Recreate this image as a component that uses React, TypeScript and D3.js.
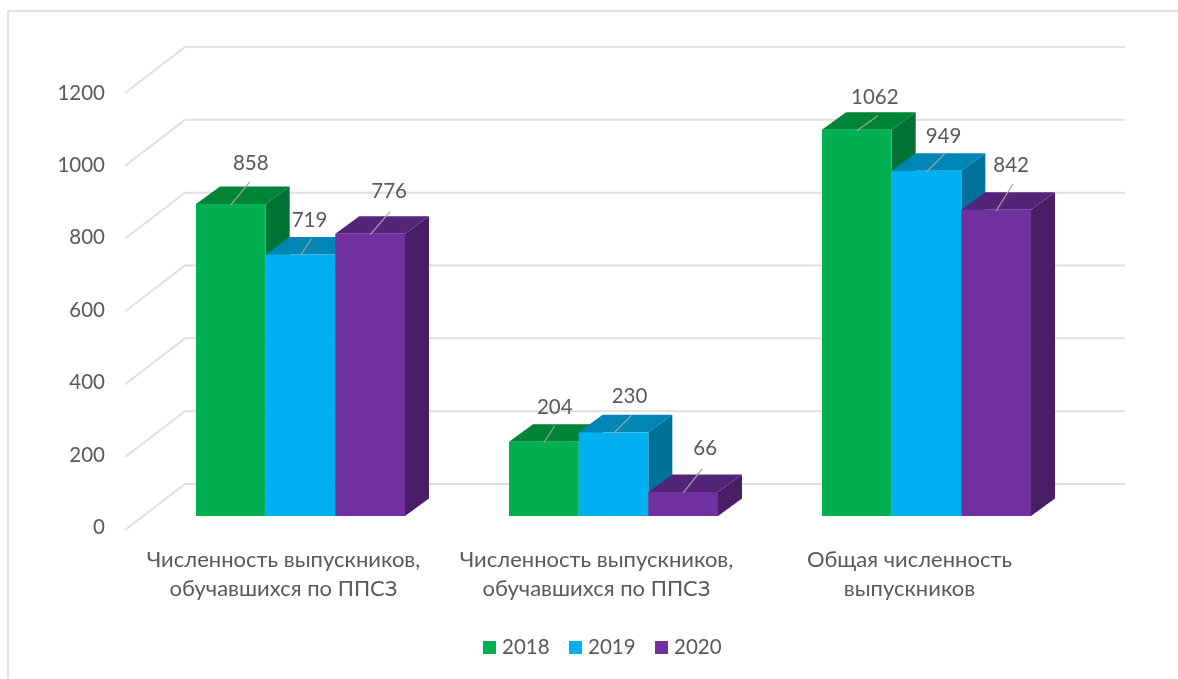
import React from "react";
import * as d3 from "d3";

const categories = [
  ["Численность выпускников,", "обучавшихся по ППСЗ"],
  ["Численность выпускников,", "обучавшихся по ППСЗ"],
  ["Общая численность", "выпускников"],
];
const years = ["2018", "2019", "2020"];
const values2018 = [858, 204, 1062];
const values2019 = [719, 230, 949];
const values2020 = [776, 66, 842];
const series = [values2018, values2019, values2020];
const yTicks = [0, 200, 400, 600, 800, 1000, 1200];

const front = ["#00B050", "#00B0F0", "#7030A0"];
const top = ["#008538", "#0085B5", "#542478"];
const side = ["#007233", "#00719B", "#481F67"];

// label offsets relative to the top-front centre of each bar
const labelOffset = [
  [[20, -41], [9, -34], [19, -43]],
  [[11, -35], [16, -36], [22, -44]],
  [[18, -33], [17, -35], [15, -45]],
];
const leaderEnd = [
  [[19, -22], [11, -16], [20, -22]],
  [[11, -16], [18, -17], [19, -23]],
  [[21, -14], [18, -17], [17, -26]],
];

const FONT = "Lato, 'Open Sans', 'Noto Sans', sans-serif";
const TEXT = "#595959";

export default function App() {
  const y = d3.scaleLinear().domain([0, 1200]).range([516, 79.5]);
  const wall = d3.scaleLinear().domain([0, 1200]).range([530, 93]);
  const tickY = d3.scaleLinear().domain([0, 1200]).range([534, 99.5]);
  const depthX = 24;
  const depthY = 17.5;
  const wallX = 60;
  const wallRise = 46;
  const x0 = d3.scaleBand<number>().domain([0, 1, 2]).range([144, 1083]);
  const groupW = 209;
  const barW = groupW / 3;
  const barX = (c: number, s: number) =>
    (x0(c) as number) + x0.bandwidth() / 2 - groupW / 2 + s * barW;

  const order = [0, 1, 2];
  return (
    <svg
      width={1178}
      height={679}
      viewBox="0 0 1178 679"
      style={{ position: "absolute", left: 0, top: 0, background: "#fff", filter: "blur(0.4px)" }}
      fontFamily={FONT}
    >
      <path d="M8,679V11H1178" fill="none" stroke="#D9D9D9" strokeWidth={1.5} />
      {yTicks.map((t) => {
        const yy = wall(t);
        return (
          <g key={t}>
            <path
              d={d3.line()([
                [125, yy],
                [125 + wallX, yy - wallRise],
                [1125, yy - wallRise],
              ]) as string}
              fill="none"
              stroke="#E0E0E0"
              strokeWidth={2}
            />
            <text x={105} y={tickY(t)} textAnchor="end" fontSize={20.5} fill={TEXT}>
              {t}
            </text>
          </g>
        );
      })}
      {categories.map((_, c) => (
        <g key={c}>
          {order.map((s) => {
            const x = barX(c, s);
            const t = y(series[s][c]);
            const b = y(0);
            return (
              <g key={s}>
                <path
                  d={`M${x + barW},${t}L${x + barW + depthX},${t - depthY}V${b - depthY}L${x + barW},${b}Z`}
                  fill={side[s]}
                />
                <path
                  d={`M${x},${t}L${x + depthX},${t - depthY}H${x + barW + depthX}L${x + barW},${t}Z`}
                  fill={top[s]}
                />
                <rect x={x} y={t} width={barW} height={b - t} fill={front[s]} />
              </g>
            );
          })}
          {order.map((s) => {
            const cx = barX(c, s) + barW / 2;
            const t = y(series[s][c]);
            const [lx, ly] = labelOffset[c][s];
            const [ex, ey] = leaderEnd[c][s];
            return (
              <g key={s}>
                <line x1={cx} y1={t + 1} x2={cx + ex} y2={t + ey} stroke="#A6A6A6" strokeWidth={1.2} />
                <text x={cx + lx} y={t + ly + 7} textAnchor="middle" fontSize={20.5} fill={TEXT}>
                  {series[s][c]}
                </text>
              </g>
            );
          })}
        </g>
      ))}
      {categories.map((lines, c) => {
        const cx = barX(c, 1) + barW / 2 - 17;
        return (
          <text key={c} textAnchor="middle" fontSize={22} fill={TEXT}>
            {lines.map((l, i) => (
              <tspan key={i} x={cx} y={567 + i * 28.5}>
                {l}
              </tspan>
            ))}
          </text>
        );
      })}
      {years.map((yr, i) => (
        <g key={yr} transform={`translate(${483 + i * 86},641)`}>
          <rect width={13} height={13} fill={front[i]} />
          <text x={19} y={13} fontSize={20.5} fill={TEXT}>
            {yr}
          </text>
        </g>
      ))}
    </svg>
  );
}
